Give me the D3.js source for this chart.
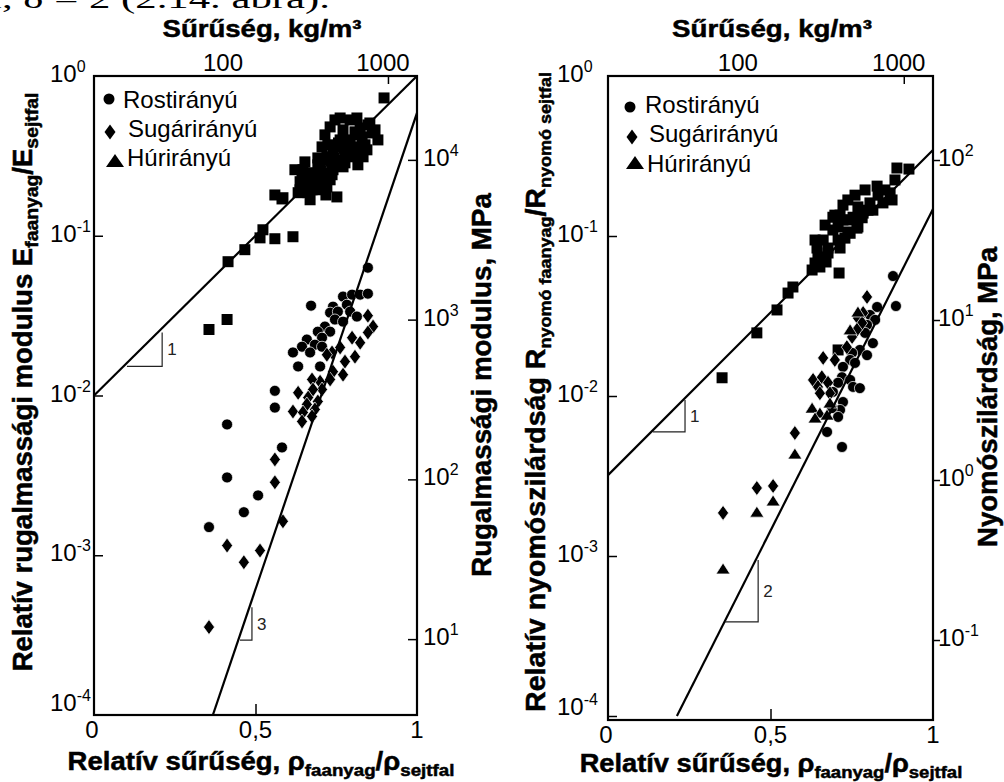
<!DOCTYPE html>
<html><head><meta charset="utf-8">
<script src="https://cdn.jsdelivr.net/npm/d3@7"></script>
<style>body{margin:0;background:#fff}svg{display:block}</style>
</head><body>
<svg id="c" width="1004" height="782"></svg>
<script>
// ---------- DATA ----------
const relDensityTicks = [0, 0.5, 1];
const relDensityTickLabels = ["0", "0,5", "1"];
const densityTicks = [100, 1000];
const densityTickLabels = ["100", "1000"];
const relYTickExps = [0, -1, -2, -3, -4];
const modulusTickExps = [4, 3, 2, 1];
const strengthTickExps = [2, 1, 0, -1];
const legendLabels = ["Rostirányú", "Sugárirányú", "Húrirányú"];
const cellWallModulusMPa = 33500;
const cellWallStrengthMPa = 335;
const cellWallDensity = 1500;
const densityMin = 16.5;

const headerText = "i, δ = 2 (2.14. ábra).";
const topTitle = ["Sűrűség, kg/m³"];
const bottomTitle = ["Relatív sűrűség, ρ", "faanyag", "/ρ", "sejtfal"];
const yTitleE = ["Relatív rugalmassági modulus E", "faanyag", "/E", "sejtfal"];
const yTitleS = ["Relatív nyomószilárdság R", "nyomó faanyag", "/R", "nyomó sejtfal"];
const y2TitleE = ["Rugalmassági modulus, MPa"];
const y2TitleS = ["Nyomószilárdság, MPa"];

// Modulus panel
const squaresE = [[0.898,0.729],[0.848,0.494],[0.879,0.398],[0.861,0.44],
[0.746,0.531],[0.793,0.531],[0.731,0.48],[0.771,0.46],[0.808,0.447],[0.830,0.416],[0.793,0.398],[0.762,0.398],[0.817,0.36],[0.845,0.345],[0.783,0.345],[0.740,0.33],[0.706,0.36],[0.721,0.312],[0.752,0.299],[0.802,0.312],[0.817,0.278],[0.771,0.27],[0.700,0.27],[0.678,0.248],[0.709,0.248],[0.740,0.259],[0.647,0.259],[0.669,0.224],[0.700,0.218],[0.731,0.224],[0.644,0.224],[0.659,0.202],[0.690,0.194],[0.721,0.202],[0.638,0.194],[0.669,0.168],[0.663,0.186],[0.752,0.175],[0.632,0.186],[0.560,0.18],[0.582,0.17],[0.684,0.218],[0.768,0.36],[0.833,0.312],[0.854,0.508],[0.824,0.473],[0.814,0.428],[0.786,0.381],[0.693,0.307],[0.777,0.286],[0.737,0.241],[0.693,0.2],[0.585,0.173],[0.737,0.286],[0.757,0.381],
[0.762,0.546],[0.814,0.546],[0.715,0.428],[0.799,0.355],[0.724,0.371],[0.777,0.321],[0.693,0.278],[0.731,0.299],[0.653,0.29],[0.675,0.194],[0.718,0.18],[0.638,0.218],[0.622,0.259],[0.839,0.371],[0.870,0.46],
[0.616,0.0986],[0.560,0.0958],[0.523,0.109],[0.514,0.097],[0.467,0.0818],[0.415,0.0688],[0.412,0.0299],[0.356,0.0259]];
const circlesE = [[0.848,0.0631],[0.771,0.0416],[0.799,0.0428],[0.824,0.0428],[0.848,0.0434],[0.672,0.0365],[0.740,0.036],[0.783,0.037],[0.731,0.033],[0.755,0.0335],[0.793,0.0335],[0.814,0.0312],[0.746,0.0299],[0.771,0.029],[0.715,0.027],[0.693,0.0251],[0.731,0.0251],[0.659,0.0224],[0.706,0.023],[0.684,0.0208],[0.644,0.0202],[0.616,0.0186],[0.669,0.0186],[0.706,0.0202],[0.632,0.0152],[0.700,0.0152],[0.560,0.0107],[0.560,0.0084],[0.412,0.00659],[0.582,0.00473],[0.412,0.00307],[0.508,0.00237],[0.464,0.00186],[0.356,0.0015]];
const diamondsE = [[0.848,0.0316],[0.864,0.027],[0.848,0.0248],[0.824,0.0214],[0.799,0.023],[0.808,0.0175],[0.777,0.0163],[0.762,0.02],[0.737,0.0186],[0.721,0.018],[0.771,0.0135],[0.740,0.0141],[0.731,0.0126],[0.700,0.0122],[0.675,0.0126],[0.706,0.0109],[0.678,0.0109],[0.632,0.0104],[0.663,0.0097],[0.693,0.00917],[0.659,0.00879],[0.684,0.00818],[0.616,0.00794],[0.647,0.00783],[0.675,0.0074],[0.644,0.00688],[0.560,0.00398],[0.560,0.00286],[0.585,0.00163],[0.412,0.00115],[0.514,0.00107],[0.464,0.000904],[0.356,0.000355]];
const fitLinesE = [[[0,0.01],[1,1]], [[0.368,0.0001],[1,0.587]]];
const slopeTrisE = [{x0:0.102,x1:0.211,yb:0.0152,yt:0.0248,label:"1"},{x0:0.452,x1:0.489,yb:0.000294,yt:0.000473,label:"3"}];

// Strength panel
const squaresS = [[0.889,0.266],[0.926,0.262],[0.883,0.224],[0.828,0.205],[0.868,0.186],[0.874,0.168],[0.846,0.161],[0.806,0.161],[0.738,0.168],[0.723,0.156],[0.692,0.131],[0.769,0.152],[0.785,0.139],[0.754,0.131],[0.723,0.126],[0.692,0.109],[0.769,0.114],[0.745,0.104],[0.708,0.0944],[0.662,0.0944],[0.643,0.0841],[0.677,0.0841],[0.714,0.0841],[0.646,0.074],[0.677,0.0783],[0.652,0.064],[0.711,0.0587],[0.569,0.048],[0.554,0.044],[0.520,0.0345],[0.458,0.0248],[0.351,0.013],[0.708,0.0194],[0.815,0.145],[0.800,0.145],[0.698,0.135],[0.766,0.112],[0.729,0.097],[0.637,0.0678],[0.782,0.13],[0.738,0.106],[0.708,0.114],
[0.760,0.18],[0.791,0.194],[0.831,0.18],[0.714,0.135],[0.668,0.117],[0.738,0.126],[0.637,0.0944],[0.671,0.0688],[0.628,0.0613],[0.852,0.194]];
const circlesS = [[0.877,0.0562],[0.886,0.0365],[0.828,0.036],[0.806,0.0321],[0.822,0.0299],[0.797,0.0278],[0.791,0.0248],[0.815,0.0214],[0.775,0.0194],[0.797,0.018],[0.751,0.0186],[0.745,0.0168],[0.760,0.0161],[0.723,0.0152],[0.720,0.0131],[0.745,0.0126],[0.754,0.0114],[0.775,0.0112],[0.708,0.0121],[0.692,0.0106],[0.723,0.00917],[0.714,0.00818],[0.689,0.0084],[0.708,0.0074],[0.674,0.00596],[0.720,0.0048]];
const diamondsS = [[0.797,0.0416],[0.785,0.033],[0.769,0.0307],[0.782,0.0286],[0.766,0.0259],[0.751,0.0234],[0.735,0.0202],[0.662,0.0173],[0.698,0.0168],[0.631,0.0126],[0.658,0.0131],[0.677,0.0121],[0.646,0.0114],[0.683,0.0104],[0.652,0.0104],[0.575,0.00587],[0.458,0.00266],[0.508,0.00274],[0.354,0.00186]];
const trianglesS = [[0.628,0.0084],[0.652,0.00783],[0.637,0.00729],[0.674,0.0076],[0.683,0.00904],[0.575,0.00434],[0.458,0.00188],[0.508,0.00221],[0.354,0.00083],[0.745,0.0259],[0.769,0.0335]];
const fitLinesS = [[[0,0.0032],[1,0.345]], [[0.212,0.0001],[1,0.1475]]];
const slopeTrisS = [{x0:0.138,x1:0.237,yb:0.00596,yt:0.00944,label:"1"},{x0:0.36,x1:0.462,yb:0.000387,yt:0.000944,label:"2"}];

// ---------- DRAWING ----------
const FONT = "'Liberation Sans', Arial, Helvetica, sans-serif";
const svg = d3.select("#c");

const markerPaths = {
  square: "M-5.5,-5.5H5.5V5.5H-5.5Z",
  diamond: "M0,-7.5L5.5,0L0,7.5L-5.5,0Z",
  triangle: "M0,-6L7,5L-7,5Z"
};

function drawMarker(g, type, x, y) {
  if (type === "circle") {
    return g.append("circle").attr("cx", x).attr("cy", y).attr("r", 5.5);
  }
  return g.append("path").attr("d", markerPaths[type]).attr("transform", `translate(${x},${y})`);
}

function addTitle(parent, parts, o) {
  const g = parent.append("g");
  const t = g.append("text").attr("text-anchor", "middle")
    .attr("font-family", o.serif ? "'Liberation Serif', 'Times New Roman', serif" : FONT)
    .attr("font-weight", o.bold === false ? "normal" : "bold")
    .attr("font-size", o.size).attr("fill", "#000");
  if (o.bold !== false) t.attr("stroke", "#000").attr("stroke-width", 0.5);
  parts.forEach((p, i) => {
    const ts = t.append("tspan").text(p);
    if (i % 2 === 1) ts.attr("font-size", o.subSize).attr("dy", o.subShift);
    else if (i > 0) ts.attr("dy", -o.subShift);
  });
  const w = t.node().getComputedTextLength();
  const k = o.target ? o.target / w : 1;
  g.attr("transform", `translate(${o.x},${o.y})` + (o.rotate ? ` rotate(${o.rotate})` : "") + ` scale(${k},1)`);
  return g;
}

function supLabel(parent, x, y, exp, anchor) {
  const t = parent.append("text").attr("x", x).attr("y", y)
    .attr("font-family", FONT).attr("font-size", 24).attr("text-anchor", anchor || "start");
  t.append("tspan").text("10");
  t.append("tspan").attr("font-size", 16).attr("dy", -10).text(exp < 0 ? "-" + (-exp) : String(exp));
}

// header line (document text cut off at the top, as in the reference)
addTitle(svg, [headerText], {x: 160, y: 8, size: 28, serif: true, bold: false, target: 340});

const panels = [
  { L: 94, R: 417, T: 76, B: 715, yMin: 1e-4, factor: cellWallModulusMPa, rightExps: modulusTickExps,
    leftLabelX: 50, rightLabelX: 423, rightTickIn: true,
    sets: [["square", squaresE], ["circle", circlesE], ["diamond", diamondsE]],
    lines: fitLinesE, tris: slopeTrisE,
    legend: [{type:"circle", mx:109, my:99, tx:123, ty:108}, {type:"diamond", mx:110, my:132, tx:128, ty:137}, {type:"legtri", mx:115, my:161, tx:127, ty:166}],
    topT: {x: 262, y: 37, target: 199}, botT: {x: 261, y: 770, target: 387},
    yT: {parts: yTitleE, x: 32, y: 382, target: 579, sub: 19, shift: 6},
    y2T: {parts: y2TitleE, x: 491, y: 385, target: 384}
  },
  { L: 608, R: 933, T: 76, B: 720, yMin: Math.pow(10, -4.025), factor: cellWallStrengthMPa, rightExps: strengthTickExps,
    leftLabelX: 557, rightLabelX: 938, rightTickIn: false,
    sets: [["square", squaresS], ["circle", circlesS], ["diamond", diamondsS], ["triangle", trianglesS]],
    lines: fitLinesS, tris: slopeTrisS,
    legend: [{type:"circle", mx:630, my:107, tx:645, ty:113}, {type:"diamond", mx:632, my:137, tx:649, ty:142}, {type:"legtri", mx:635, my:163, tx:647, ty:172}],
    topT: {x: 772, y: 37, target: 200}, botT: {x: 771, y: 772, target: 383},
    yT: {parts: yTitleS, x: 545, y: 392, target: 640, sub: 17, shift: 6},
    y2T: {parts: y2TitleS, x: 997, y: 397, target: 300}
  }
];

panels.forEach((p, pi) => {
  const x = d3.scaleLinear().domain([0, 1]).range([p.L, p.R]);
  const y = d3.scaleLog().domain([p.yMin, 1]).range([p.B, p.T]);
  const y2 = d3.scaleLog().domain([p.yMin * p.factor, p.factor]).range([p.B, p.T]);
  const xTop = d3.scaleLog().domain([densityMin, cellWallDensity]).range([p.L, p.R]);
  const g = svg.append("g");

  const clipId = "clip" + pi;
  svg.append("clipPath").attr("id", clipId).append("rect")
    .attr("x", p.L).attr("y", p.T).attr("width", p.R - p.L).attr("height", p.B - p.T);
  const plot = g.append("g").attr("clip-path", `url(#${clipId})`);

  // points
  p.sets.forEach(([type, arr]) => {
    const sg = plot.append("g").attr("fill", "#000")
      .attr("stroke", type === "square" ? "none" : "#fff").attr("stroke-width", 0.7);
    arr.forEach(d => drawMarker(sg, type, x(d[0]), y(d[1])));
  });

  // fit lines
  const line = d3.line().x(d => x(d[0])).y(d => y(d[1]));
  p.lines.forEach(l => plot.append("path").attr("d", line(l)).attr("fill", "none")
    .attr("stroke", "#000").attr("stroke-width", 2.2));

  // slope triangles
  p.tris.forEach(t => {
    g.append("path").attr("d", line([[t.x0, t.yb], [t.x1, t.yb], [t.x1, t.yt]]))
      .attr("fill", "none").attr("stroke", "#222").attr("stroke-width", 1.2);
    g.append("text").attr("x", x(t.x1) + 5).attr("y", (y(t.yb) + y(t.yt)) / 2 + 6)
      .attr("font-family", FONT).attr("font-size", 17).attr("fill", "#222").text(t.label);
  });

  // frame
  g.append("rect").attr("x", p.L).attr("y", p.T).attr("width", p.R - p.L).attr("height", p.B - p.T)
    .attr("fill", "none").attr("stroke", "#000").attr("stroke-width", 2.2);

  // axes (tick marks only)
  const yTickVals = relYTickExps.map(e => Math.pow(10, e)).filter(v => v < 1 && v > p.yMin * 1.01);
  const axL = g.append("g").attr("transform", `translate(${p.L},0)`)
    .call(d3.axisLeft(y).tickValues(yTickVals).tickSizeInner(-9).tickSizeOuter(0).tickFormat(""));
  const rightVals = p.rightExps.map(e => Math.pow(10, e));
  const axR = g.append("g").attr("transform", `translate(${p.R},0)`)
    .call(d3.axisRight(y2).tickValues(rightVals).tickSizeInner(p.rightTickIn ? -9 : 7).tickSizeOuter(0).tickFormat(""));
  const axB = g.append("g").attr("transform", `translate(0,${p.B})`)
    .call(d3.axisBottom(x).tickValues([0.5]).tickSizeInner(-11).tickSizeOuter(0).tickFormat(""));
  const axT = g.append("g").attr("transform", `translate(0,${p.T})`)
    .call(d3.axisTop(xTop).tickValues([1000]).tickSizeInner(-8).tickSizeOuter(0).tickFormat(""));
  [axL, axR, axB, axT].forEach(a => {
    a.select(".domain").remove();
    a.selectAll("line").attr("stroke", "#000").attr("stroke-width", 1.5);
  });

  // left tick labels
  relYTickExps.forEach((e, i) => {
    const yy = Math.max(y(Math.pow(10, e)), p.T);
    const base = i === relYTickExps.length - 1 ? Math.min(yy - 1, p.B - 4) : yy + 6;
    supLabel(g, p.leftLabelX, base, e, "start");
  });
  // right tick labels
  p.rightExps.forEach(e => supLabel(g, p.rightLabelX, y2(Math.pow(10, e)) + 6, e, "start"));
  // bottom tick labels
  relDensityTicks.forEach((v, i) => g.append("text").attr("x", x(v) - (v === 0 ? 2 : 0)).attr("y", p.B + 23)
    .attr("text-anchor", "middle").attr("font-family", FONT).attr("font-size", 24).text(relDensityTickLabels[i]));
  // top tick labels
  densityTicks.forEach((v, i) => g.append("text").attr("x", xTop(v) - (v === 1000 ? 5 : 0)).attr("y", 71)
    .attr("text-anchor", "middle").attr("font-family", FONT).attr("font-size", 24).text(densityTickLabels[i]));

  // legend
  p.legend.forEach((l, i) => {
    if (l.type === "legtri") {
      g.append("path").attr("d", `M${l.mx},${l.my - 7}L${l.mx + 9},${l.my + 6}L${l.mx - 9},${l.my + 6}Z`).attr("fill", "#000");
    } else {
      drawMarker(g, l.type, l.mx, l.my).attr("fill", "#000");
    }
    g.append("text").attr("x", l.tx).attr("y", l.ty).attr("font-family", FONT).attr("font-size", 24).text(legendLabels[i]);
  });

  // titles
  addTitle(g, topTitle, {x: p.topT.x, y: p.topT.y, size: 24, target: p.topT.target});
  addTitle(g, bottomTitle, {x: p.botT.x, y: p.botT.y, size: 25, subSize: 17, subShift: 6, target: p.botT.target});
  addTitle(g, p.yT.parts, {x: p.yT.x, y: p.yT.y, rotate: -90, size: 27, subSize: p.yT.sub, subShift: p.yT.shift, target: p.yT.target});
  addTitle(g, p.y2T.parts, {x: p.y2T.x, y: p.y2T.y, rotate: -90, size: 27, target: p.y2T.target});
});
</script>
</body></html>
